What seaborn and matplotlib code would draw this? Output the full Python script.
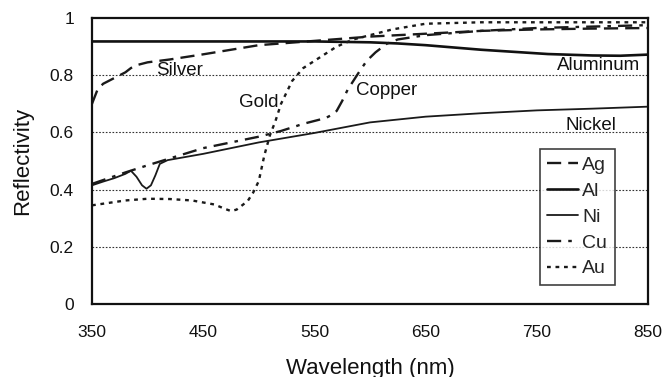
import numpy as np
import pandas as pd
import matplotlib
matplotlib.use("Agg")
import matplotlib.pyplot as plt
import seaborn as sns

ag_wl = [350, 355, 360, 370, 380, 385, 390, 400, 420, 450, 500, 550, 600, 650, 700, 750, 800, 850]
ag_r = [0.70, 0.75, 0.77, 0.79, 0.81, 0.825, 0.835, 0.845, 0.855, 0.873, 0.905, 0.92, 0.935, 0.945, 0.955, 0.96, 0.963, 0.965]

al_wl = [350, 400, 450, 500, 550, 600, 625, 650, 700, 760, 800, 825, 850]
al_r = [0.918, 0.918, 0.918, 0.918, 0.918, 0.915, 0.911, 0.905, 0.889, 0.874, 0.869, 0.868, 0.872]

ni_wl = [350, 360, 370, 380, 385, 390, 395, 399, 403, 407, 411, 418, 450, 500, 550, 600, 650, 700, 750, 800, 850]
ni_r = [0.415, 0.428, 0.44, 0.455, 0.466, 0.445, 0.415, 0.403, 0.415, 0.45, 0.49, 0.503, 0.525, 0.565, 0.598, 0.635, 0.655, 0.667, 0.677, 0.683, 0.69]

cu_wl = [350, 380, 400, 450, 500, 520, 540, 550, 560, 565, 570, 575, 580, 585, 590, 597, 605, 615, 625, 650, 700, 750, 800, 850]
cu_r = [0.42, 0.46, 0.485, 0.545, 0.585, 0.605, 0.63, 0.64, 0.65, 0.66, 0.675, 0.71, 0.75, 0.78, 0.81, 0.85, 0.88, 0.91, 0.925, 0.94, 0.955, 0.965, 0.97, 0.975]

au_wl = [350, 380, 400, 420, 440, 460, 470, 475, 480, 490, 495, 500, 505, 510, 515, 520, 530, 540, 550, 560, 570, 585, 600, 620, 650, 700, 750, 800, 850]
au_r = [0.345, 0.362, 0.368, 0.367, 0.362, 0.348, 0.332, 0.325, 0.33, 0.36, 0.39, 0.43, 0.52, 0.59, 0.64, 0.70, 0.78, 0.825, 0.85, 0.875, 0.90, 0.925, 0.94, 0.96, 0.98, 0.985, 0.985, 0.985, 0.985]

series = [
    ("Ag", ag_wl, ag_r),
    ("Al", al_wl, al_r),
    ("Ni", ni_wl, ni_r),
    ("Cu", cu_wl, cu_r),
    ("Au", au_wl, au_r),
]

annotations = [
    ("Silver", 429, 0.817, "center"),
    ("Gold", 500, 0.703, "center"),
    ("Copper", 615, 0.748, "center"),
    ("Aluminum", 843, 0.834, "right"),
    ("Nickel", 822, 0.623, "right"),
]

x_ticks = [350, 450, 550, 650, 750, 850]
y_ticks = [0, 0.2, 0.4, 0.6, 0.8, 1]
y_ticklabels = ["0", "0.2", "0.4", "0.6", "0.8", "1"]

sns.set_theme(style="white")
plt.rcParams["font.family"] = ["Liberation Sans", "DejaVu Sans"]

fig = plt.figure(figsize=(6.64, 3.77), dpi=100)
ax = fig.add_axes([92 / 664, 73 / 377, 556 / 664, 286 / 377])

styles = {
    "Ag": dict(color="#1a1a1a", lw=1.7, dashes=(6, 3)),
    "Al": dict(color="#111111", lw=1.9, dashes=None),
    "Ni": dict(color="#1a1a1a", lw=1.3, dashes=None),
    "Cu": dict(color="#1a1a1a", lw=1.7, dashes=(6, 3, 1.5, 3)),
    "Au": dict(color="#1a1a1a", lw=1.7, dashes=(1.6, 2.0)),
}

for name, wl, r in series:
    df = pd.DataFrame({"Wavelength": wl, "Reflectivity": r})
    st = styles[name]
    sns.lineplot(data=df, x="Wavelength", y="Reflectivity", ax=ax,
                 color=st["color"], linewidth=st["lw"], label=name)
    l = ax.get_lines()[-1]
    if st["dashes"] is not None:
        l.set_dashes(st["dashes"])

for yv in [0.2, 0.4, 0.6, 0.8]:
    ax.axhline(yv, color="#333333", lw=0.8, ls=(0, (1.5, 1.5)), zorder=0)

for txt, x, y, ha in annotations:
    ax.text(x, y, txt, ha=ha, va="center", fontsize=13.5, color="#111111")

ax.set_xlim(350, 850)
ax.set_ylim(0, 1)
ax.set_xticks(x_ticks)
ax.set_xticklabels([str(t) for t in x_ticks], fontsize=12.5)
ax.set_yticks(y_ticks)
ax.set_yticklabels(y_ticklabels, fontsize=12.5)
ax.tick_params(axis="x", direction="in", length=5, width=1, pad=15, colors="#111111")
ax.tick_params(axis="y", direction="out", length=0, width=1, pad=13, colors="#111111")
ax.set_xlabel("Wavelength (nm)", fontsize=16, labelpad=13, color="#111111")
ax.set_ylabel("Reflectivity", fontsize=16, labelpad=12, color="#111111")
for sp in ax.spines.values():
    sp.set_color("#111111")
    sp.set_linewidth(1.6)

leg = ax.legend(loc="lower right", bbox_to_anchor=(0.9406, 0.066), frameon=True,
                fancybox=False, edgecolor="#111111", fontsize=14, handlelength=1.6,
                handletextpad=0.2, labelspacing=0.42, borderpad=0.4, borderaxespad=0)
leg.get_frame().set_linewidth(1.2)

fig.savefig("out.png", dpi=100, facecolor="white")
